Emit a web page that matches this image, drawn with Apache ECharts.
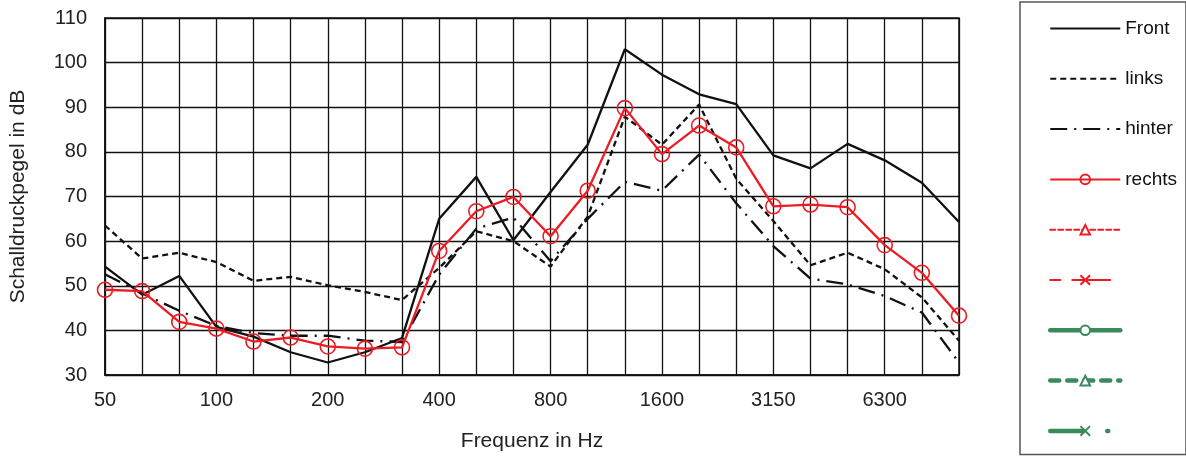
<!DOCTYPE html>
<html>
<head>
<meta charset="utf-8">
<script src="https://cdn.jsdelivr.net/npm/echarts@6/dist/echarts.min.js"></script>
<style>
	html, body { margin: 0; padding: 0; background: #fff; }
	#myChart { width: 1186px; height: 457px; }
</style>
</head>
<body>
<div id="myChart"></div>
<script>
// Terzbandmitten in Hz
var freqs = [ '50', '63', '80', '100', '125', '160', '200', '250', '315', '400',
		'500', '630', '800', '1000', '1250', '1600', '2000', '2500', '3150',
		'4000', '5000', '6300', '8000', '10000' ];
var front = [ 54.3, 48.0, 52.2, 40.8, 38.6, 35.1, 32.8, 35.1, 38.3, 65.0, 74.4,
		60.2, 71.0, 81.6, 103.0, 97.3, 92.9, 90.7, 79.2, 76.3, 81.8, 78.1, 73.1,
		64.3 ];
var links = [ 63.5, 56.1, 57.4, 55.3, 51.1, 52.0, 50.1, 48.6, 46.8, 54.0, 62.2,
		60.0, 54.3, 65.5, 87.9, 81.6, 90.6, 74.0, 64.5, 54.6, 57.4, 53.7, 47.4,
		37.7 ];
var hinter = [ 52.6, 48.3, 44.4, 41.0, 39.4, 38.8, 38.8, 37.7, 37.4, 52.5, 62.8,
		65.3, 55.5, 65.0, 73.3, 71.3, 79.4, 68.5, 58.9, 51.6, 50.3, 47.7, 44.0,
		32.8 ];
var rechts = [ 49.1, 48.8, 41.9, 40.4, 37.5, 38.4, 36.4, 35.9, 36.2, 57.8, 66.7,
		69.9, 61.1, 71.3, 89.8, 79.5, 85.9, 81.0, 67.8, 68.2, 67.6, 59.1, 52.9,
		43.3 ];

var RED = '#ec1c24';
var GREEN = '#3a8a5c';
var FONT = 'Liberation Sans, Arial, sans-serif';
var CROSS = 'path://M0,0L10,10M10,0L0,10';

function blackLine(name, data, type) {
	return {
		name : name,
		type : 'line',
		data : data,
		symbol : 'none',
		z : 3,
		itemStyle : {
			color : '#111'
		},
		lineStyle : {
			color : '#111',
			width : 2.3,
			type : type
		}
	};
}
function emptySeries(name, color, symbol, width, type) {
	return {
		name : name,
		type : 'line',
		data : [],
		symbol : symbol,
		itemStyle : {
			color : color,
			borderColor : color,
			borderWidth : 2
		},
		lineStyle : {
			color : color,
			width : width,
			type : type,
			cap : 'round'
		}
	};
}

function showChart() {
	var myChart = echarts.init(document.getElementById('myChart'));
	var option = {
		animation : false,
		textStyle : {
			fontFamily : FONT
		},
		grid : {
			left : 105,
			top : 18,
			right : 227,
			bottom : 81,
			show : true,
			borderColor : '#111',
			borderWidth : 1.5
		},
		legend : {
			orient : 'vertical',
			left : 1020,
			top : 2,
			padding : [ 17, 9, 14, 28 ],
			itemWidth : 70,
			itemHeight : 12,
			itemGap : 31.3,
			borderColor : '#555',
			borderWidth : 1.5,
			textStyle : {
				fontFamily : FONT,
				fontSize : 19,
				color : '#111'
			},
			// die fuenf leeren Reihen tragen keinen Text
			formatter : function(name) {
				return name.charAt(0) === '_' ? ' ' : name;
			},
			data : [ {
				name : 'Front',
				itemStyle : { opacity : 0 }
			}, {
				name : 'links',
				itemStyle : { opacity : 0 }
			}, {
				name : 'hinter',
				itemStyle : { opacity : 0 }
			}, {
				name : 'rechts'
			}, {
				name : '_r2'
			}, {
				name : '_r3'
			}, {
				name : '_g1',
				lineStyle : { width : 4.5 }
			}, {
				name : '_g2',
				lineStyle : { width : 4.5 }
			}, {
				name : '_g3',
				lineStyle : { width : 4.5 }
			} ]
		},
		xAxis : {
			type : 'category',
			data : freqs,
			boundaryGap : false,
			name : 'Frequenz in Hz',
			nameLocation : 'middle',
			nameGap : 56,
			nameTextStyle : {
				fontFamily : FONT,
				fontSize : 21,
				color : '#222'
			},
			axisLine : {
				lineStyle : {
					color : '#111',
					width : 1.5
				}
			},
			axisTick : {
				show : false
			},
			axisLabel : {
				interval : 2,
				margin : 15,
				fontFamily : FONT,
				fontSize : 20,
				color : '#222'
			},
			splitLine : {
				show : true,
				interval : 0,
				lineStyle : {
					color : '#111',
					width : 1.3
				}
			}
		},
		yAxis : {
			type : 'value',
			min : 30,
			max : 110,
			interval : 10,
			name : 'Schalldruckpegel in dB',
			nameLocation : 'middle',
			nameGap : 76,
			nameTextStyle : {
				fontFamily : FONT,
				fontSize : 21,
				color : '#222'
			},
			axisLine : {
				show : true,
				lineStyle : {
					color : '#111',
					width : 1.5
				}
			},
			axisTick : {
				show : false
			},
			axisLabel : {
				margin : 18,
				fontFamily : FONT,
				fontSize : 20,
				color : '#222'
			},
			splitLine : {
				lineStyle : {
					color : '#111',
					width : 1.3
				}
			}
		},
		series : [
				blackLine('Front', front, 'solid'),
				blackLine('links', links, [ 6, 4 ]),
				blackLine('hinter', hinter, [ 17, 7, 2, 7 ]),
				{
					name : 'rechts',
					type : 'line',
					data : rechts,
					z : 4,
					symbol : 'circle',
					symbolSize : 15,
					itemStyle : {
						color : 'rgba(0,0,0,0)',
						borderColor : RED,
						borderWidth : 1.6
					},
					lineStyle : {
						color : RED,
						width : 2.3
					}
				},
				emptySeries('_r2', RED, 'emptyTriangle', 2, [ 5, 3 ]),
				emptySeries('_r3', RED, CROSS, 2, [ 10, 12, 38, 30 ]),
				emptySeries('_g1', GREEN, 'emptyCircle', 4.5, 'solid'),
				emptySeries('_g2', GREEN, 'emptyTriangle', 4.5, [ 9, 8 ]),
				emptySeries('_g3', GREEN, CROSS, 4.5, [ 33, 24, 1, 40 ]) ]
	};
	myChart.setOption(option);
}
showChart();
</script>
</body>
</html>
